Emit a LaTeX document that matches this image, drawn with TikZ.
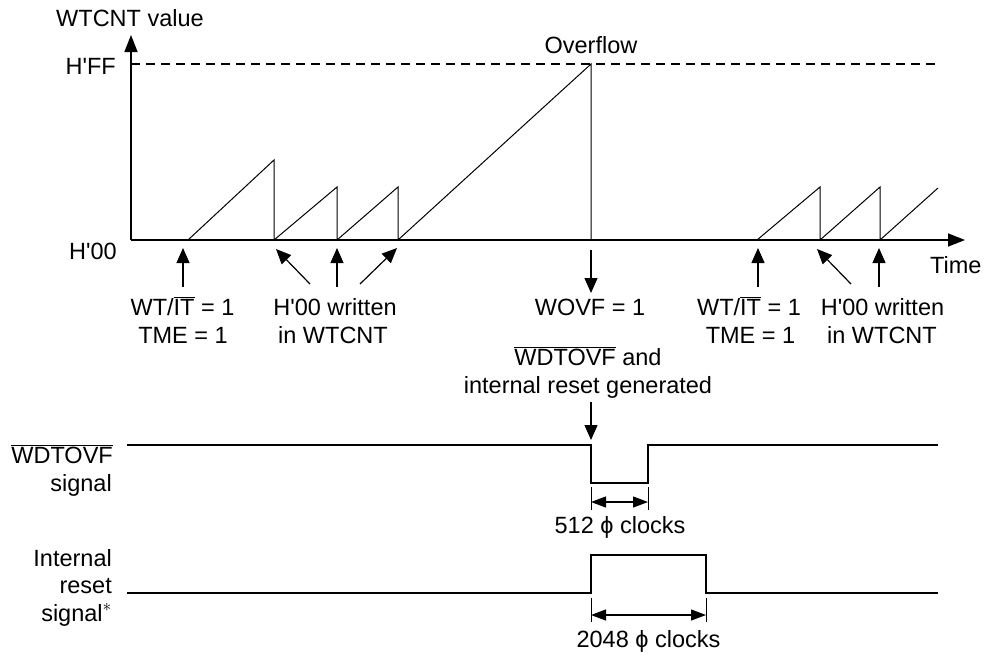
\documentclass[tikz,border=0pt]{standalone}
\usepackage{fontspec}
\setmainfont{Liberation Sans}
\usetikzlibrary{arrows.meta}
\newcommand{\ovl}[1]{$\overline{\mbox{#1}}$}
\newcommand{\ph}{\symbol{"03D5}}
\newcommand{\hx}{H\textquotesingle}

\begin{document}
\begin{tikzpicture}[x=1pt,y=-1pt,
  lbl/.style={font=\fontsize{23.5}{28}\selectfont, inner sep=0pt, anchor=base},
  lblr/.style={lbl, anchor=base east},
  axis/.style={line width=1.6pt, -{Triangle[length=17pt,width=13pt]}},
  ramp/.style={line width=1pt},
  evarrow/.style={line width=1.2pt, -{Triangle[length=15pt,width=13pt]}},
  sig/.style={line width=1.5pt},
  dim/.style={line width=1.2pt, {Triangle[length=15pt,width=11pt]}-{Triangle[length=15pt,width=11pt]}}]
\useasboundingbox (0,0) rectangle (990,653);
% counter axes
\coordinate (o) at (131,240);
\coordinate (ytop) at (131,35);
\coordinate (xend) at (965,240);
\draw[axis] (o) -- (ytop);
\draw[axis] (o) -- (xend);
\draw[line width=1.3pt, dash pattern=on 9pt off 6pt] (131,64) -- (935,64);
\node[lbl] (yname) at (130,27) {WTCNT value};
\node[lblr] (hff) at (116,74) {\hx FF};
\node[lblr] (h00) at (117,259) {\hx 00};
\node[lbl] (ovf) at (591,53) {Overflow};
\node[lbl, anchor=base west] (time) at (930,273) {Time};
% counter value
\draw[ramp] (188,240) -- (274,160) -- (274,240) -- (337,187) -- (337,240) -- (398,187) -- (398,240) -- (591,64) -- (591,240);
\draw[ramp] (757,240) -- (820,187) -- (820,240) -- (880,187) -- (880,240) -- (938,188);
% events
\node[lbl] (wt1) at (182.5,315) {WT/\ovl{IT} = 1};
\node[lbl] (tme1) at (183,343) {TME = 1};
\node[lbl] (wr1) at (335,315) {\hx 00 written};
\node[lbl] (in1) at (333,343) {in WTCNT};
\node[lbl] (wovf) at (590,315) {WOVF = 1};
\node[lbl] (wt2) at (749,315) {WT/\ovl{IT} = 1};
\node[lbl] (tme2) at (750.5,343) {TME = 1};
\node[lbl] (wr2) at (882.5,315) {\hx 00 written};
\node[lbl] (in2) at (882,343) {in WTCNT};
\node[lbl] (gen1) at (588,365) {\ovl{WDTOVF} and};
\node[lbl] (gen2) at (588,393) {internal reset generated};
\coordinate (e1) at (183,248);
\coordinate (e2) at (276,249);
\coordinate (e3) at (337,248);
\coordinate (e4) at (397,248);
\coordinate (e5) at (758,248);
\coordinate (e6) at (817,249);
\coordinate (e7) at (879,248);
\coordinate (s1) at (183,287);
\coordinate (s2) at (310,284);
\coordinate (s3) at (337,287);
\coordinate (s4) at (360,284);
\coordinate (s5) at (758,287);
\coordinate (s6) at (851,284);
\coordinate (s7) at (879,287);
\coordinate (ov) at (591,250);
\coordinate (ovt) at (591,293);
\draw[evarrow] (s1) -- (e1);
\draw[evarrow] (s2) -- (e2);
\draw[evarrow] (s3) -- (e3);
\draw[evarrow] (s4) -- (e4);
\draw[evarrow] (s5) -- (e5);
\draw[evarrow] (s6) -- (e6);
\draw[evarrow] (s7) -- (e7);
\draw[evarrow] (ov) -- (ovt);
% WDTOVF signal
\node[lblr] (wdt1) at (113,463) {\ovl{WDTOVF}};
\node[lblr] (wdt2) at (112,491) {signal};
\coordinate (g0) at (591,402);
\coordinate (g1) at (591,440);
\draw[evarrow] (g0) -- (g1);
\draw[sig] (127,445) -- (591,445) -- (591,483) -- (648,483) -- (648,445) -- (938,445);
\draw[line width=1pt] (591,487) -- (591,510);
\draw[line width=1pt] (648,487) -- (648,510);
\coordinate (da) at (591,502);
\coordinate (db) at (648,502);
\draw[dim] (da) -- (db);
\node[lbl] (c512) at (620,533) {512 \ph{} clocks};
% internal reset signal
\node[lblr] (irs1) at (112,566) {Internal};
\node[lblr] (irs2) at (112,593) {reset};
\node[lblr] (irs3) at (112,621) {signal$^{\ast}$};
\draw[sig] (127,593) -- (591,593) -- (591,555) -- (706,555) -- (706,593) -- (938,593);
\draw[line width=1pt] (591,598) -- (591,622);
\draw[line width=1pt] (706,598) -- (706,622);
\coordinate (dc) at (591,615);
\coordinate (dd) at (706,615);
\draw[dim] (dc) -- (dd);
\node[lbl] (c2048) at (648.5,647) {2048 \ph{} clocks};
\end{tikzpicture}
\end{document}
